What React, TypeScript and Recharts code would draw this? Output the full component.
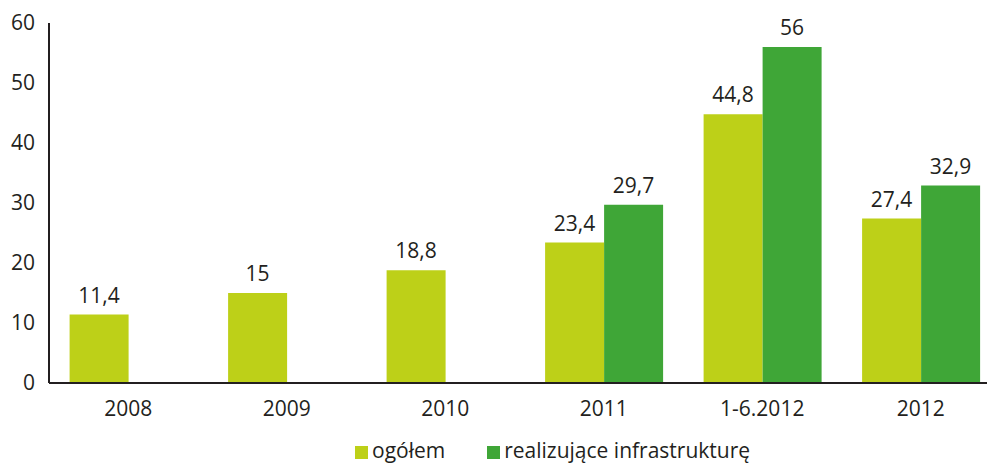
import { BarChart, Bar, XAxis, YAxis, Legend, LabelList } from 'recharts';

const years = ['2008', '2009', '2010', '2011', '1-6.2012', '2012'];
const ogolem = [11.4, 15, 18.8, 23.4, 44.8, 27.4];
const infra = [null, null, null, 29.7, 56, 32.9];
const yTicks = [0, 10, 20, 30, 40, 50, 60];

const LIGHT = '#bdd018';
const DARK = '#3fa637';
const INK = '#231f20';
const FONT = '"Open Sans", "Noto Sans", sans-serif';

const data = years.map((year, i) => ({
    year,
    ogolem: ogolem[i],
    infra: infra[i],
}));

const fmt = (v: any) => (v == null ? '' : String(v).replace('.', ','));

const legendItems = [
    { label: 'ogółem', color: LIGHT },
    { label: 'realizujące infrastrukturę', color: DARK },
];

function LegendBox() {
    return (
        <div style={{ display: 'flex', alignItems: 'center', fontFamily: FONT, fontSize: 21, lineHeight: '24px', color: INK }}>
            {legendItems.map((item, i) => (
                <div key={item.label} style={{ display: 'flex', alignItems: 'center', marginLeft: i ? 42 : 0 }}>
                    <span style={{ width: 13, height: 13, background: item.color, display: 'inline-block', marginRight: 4, marginTop: 4 }} />
                    <span>{item.label}</span>
                </div>
            ))}
        </div>
    );
}

export default function App() {
    return (
        <div style={{ position: 'absolute', left: 0, top: 0, width: 987, height: 464, overflow: 'hidden', background: '#fff' }}>
            <BarChart
                width={1000}
                height={464}
                data={data}
                margin={{ top: 23, right: 0, left: 0, bottom: 27 }}
                barCategoryGap="13%"
                barGap={0}
            >
                <XAxis
                    dataKey="year"
                    tickLine={false}
                    axisLine={{ stroke: INK, strokeWidth: 2 }}
                    tick={{ fontSize: 21, fill: INK, fontFamily: FONT }}
                    tickMargin={12}
                    interval={0}
                />
                <YAxis
                    width={49}
                    domain={[0, 60]}
                    ticks={yTicks}
                    tickLine={false}
                    axisLine={{ stroke: INK, strokeWidth: 2 }}
                    tick={{ fontSize: 21, fill: INK, fontFamily: FONT }}
                    tickMargin={8}
                />
                <Legend
                    verticalAlign="bottom"
                    content={<LegendBox />}
                    wrapperStyle={{ left: 355, bottom: 2, width: 'auto', height: 24 }}
                />
                <Bar dataKey="ogolem" fill={LIGHT} isAnimationActive={false}>
                    <LabelList
                        dataKey="ogolem"
                        position="top"
                        offset={12}
                        formatter={fmt}
                        style={{ fontSize: 21, fill: INK, fontFamily: FONT }}
                    />
                </Bar>
                <Bar dataKey="infra" fill={DARK} isAnimationActive={false}>
                    <LabelList
                        dataKey="infra"
                        position="top"
                        offset={12}
                        formatter={fmt}
                        style={{ fontSize: 21, fill: INK, fontFamily: FONT }}
                    />
                </Bar>
            </BarChart>
        </div>
    );
}
